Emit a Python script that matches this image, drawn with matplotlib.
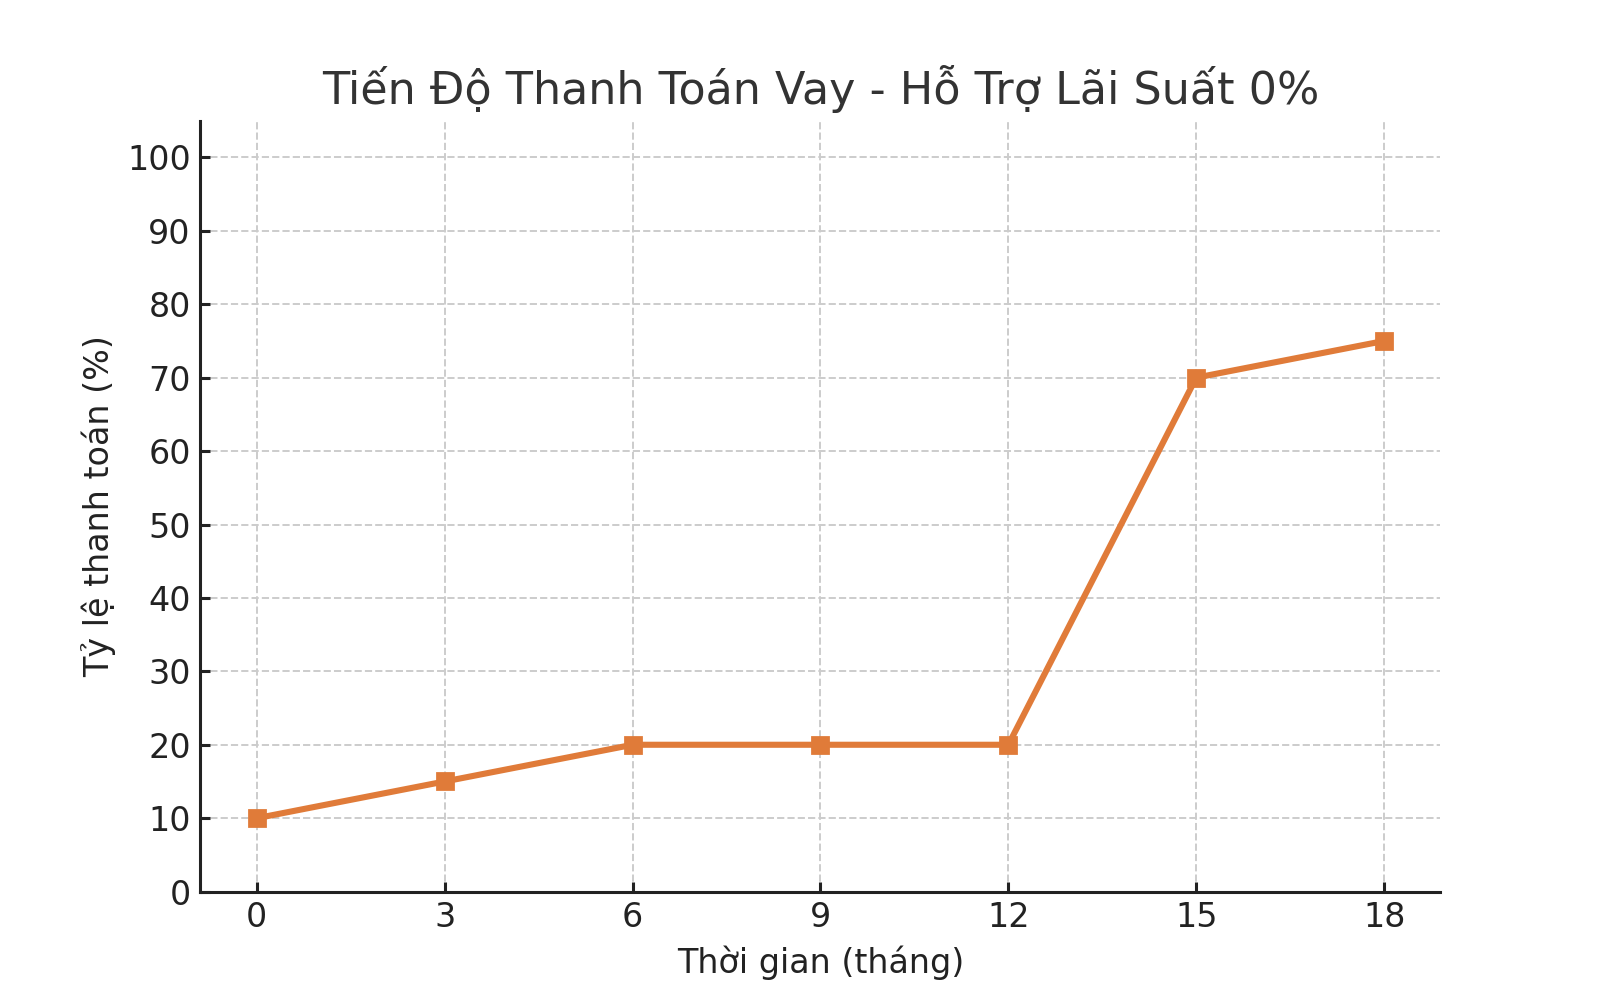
import numpy as np
import matplotlib
matplotlib.use("Agg")
import matplotlib.pyplot as plt

months = [0, 3, 6, 9, 12, 15, 18]
paid_pct = [10, 15, 20, 20, 20, 70, 75]
y_ticks = [0, 10, 20, 30, 40, 50, 60, 70, 80, 90, 100]

plt.rcParams['font.family'] = ['DejaVu Sans']

fig = plt.figure(figsize=(8, 5), dpi=200)
ax = fig.add_axes([0.1253, 0.1084, 0.775, 0.7709])

ax.plot(months, paid_pct, color='#E07B39', linewidth=2.2, marker='s', markersize=6)

ax.set_title("Tiến Độ Thanh Toán Vay - Hỗ Trợ Lãi Suất 0%", fontsize=16, color='#333333', pad=6)
ax.set_xlabel("Thời gian (tháng)", fontsize=12, color='#222222')
ax.set_ylabel("Tỷ lệ thanh toán (%)", fontsize=12, color='#222222')

ax.set_xticks(months)
ax.set_yticks(y_ticks)
ax.set_ylim(0, 105)
ax.tick_params(direction='in', labelsize=12, length=3.5, width=1.1, colors='#222222')
ax.grid(True, linestyle='--', color='#cccccc', linewidth=0.7)
ax.set_axisbelow(True)

for side in ['top', 'right']:
    ax.spines[side].set_visible(False)
for side in ['left', 'bottom']:
    ax.spines[side].set_linewidth(1.1)
    ax.spines[side].set_color('#222222')

fig.savefig("out.png", dpi=200)
